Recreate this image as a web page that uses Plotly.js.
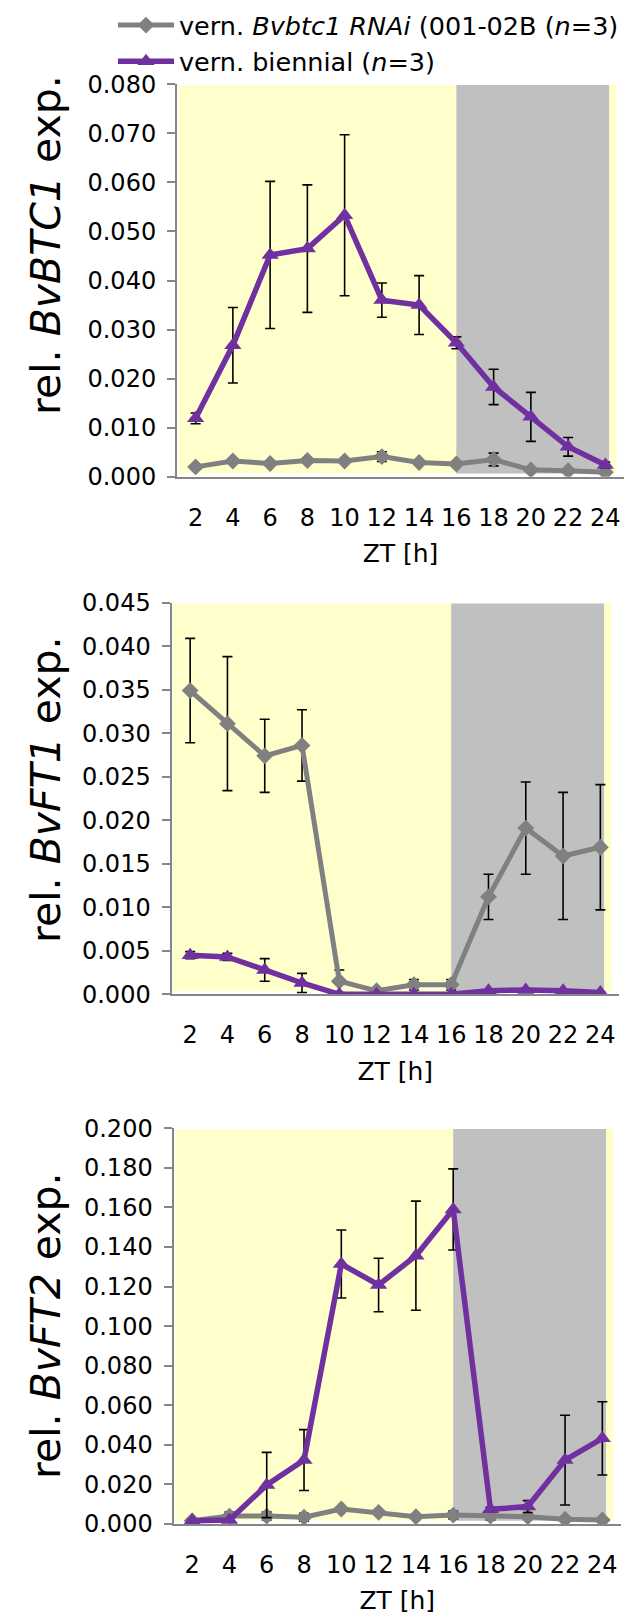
<!DOCTYPE html>
<html>
<head>
<meta charset="utf-8">
<script src="https://cdn.plot.ly/plotly-3.0.1.min.js"></script>
<style>html,body{margin:0;padding:0;background:#fff;}#chart{width:635px;height:1616px;}</style>
</head>
<body>
<div id="chart"></div>
<script>
// ---- data ----
const zt = [2, 4, 6, 8, 10, 12, 14, 16, 18, 20, 22, 24];
const xTickLabels = ["2","4","6","8","10","12","14","16","18","20","22","24"];

const seriesNames = ["vern. <i>Bvbtc1 RNAi</i> (001-02B (<i>n</i>=3)", "vern. biennial (<i>n</i>=3)"];
const yTitles = ["rel. <i>BvBTC1</i> exp.", "rel. <i>BvFT1</i> exp.", "rel. <i>BvFT2</i> exp."];
const xTitle = "ZT [h]";

// BvBTC1
const btc1Rnai    = [0.0020, 0.0032, 0.0027, 0.0033, 0.0032, 0.0041, 0.0029, 0.0026, 0.0035, 0.0014, 0.0012, 0.0009];
const btc1RnaiErr = [0.0003, 0.0004, 0.0003, 0.0005, 0.0004, 0.0010, 0.0003, 0.0003, 0.0013, 0.0003, 0.0003, 0.0002];
const btc1Bien    = [0.0119, 0.0268, 0.0452, 0.0465, 0.0533, 0.0360, 0.0350, 0.0273, 0.0183, 0.0122, 0.0061, 0.0024];
const btc1BienErr = [0.0011, 0.0077, 0.0150, 0.0130, 0.0164, 0.0035, 0.0060, 0.0012, 0.0036, 0.0050, 0.0019, 0.0006];

// BvFT1
const ft1Rnai    = [0.0349, 0.0311, 0.0274, 0.0286, 0.0015, 0.0004, 0.0011, 0.0011, 0.0112, 0.0191, 0.0159, 0.0169];
const ft1RnaiErr = [0.0060, 0.0077, 0.0042, 0.0041, 0.0013, 0.0002, 0.0006, 0.0006, 0.0026, 0.0053, 0.0073, 0.0072];
const ft1Bien    = [0.0045, 0.0043, 0.0028, 0.0013, 0.0000, 0.0000, 0.0000, 0.0000, 0.0004, 0.0005, 0.0004, 0.0002];
const ft1BienErr = [0.0004, 0.0004, 0.0013, 0.0011, 0.0000, 0.0000, 0.0000, 0.0000, 0.0001, 0.0001, 0.0001, 0.0001];

// BvFT2
const ft2Rnai    = [0.0017, 0.0040, 0.0040, 0.0034, 0.0076, 0.0059, 0.0037, 0.0045, 0.0040, 0.0037, 0.0024, 0.0020];
const ft2RnaiErr = [0.0005, 0.0020, 0.0020, 0.0020, 0.0010, 0.0010, 0.0010, 0.0020, 0.0020, 0.0010, 0.0010, 0.0010];
const ft2Bien    = [0.0017, 0.0020, 0.0197, 0.0323, 0.1314, 0.1208, 0.1356, 0.1590, 0.0074, 0.0088, 0.0323, 0.0433];
const ft2BienErr = [0.0005, 0.0005, 0.0165, 0.0154, 0.0172, 0.0135, 0.0276, 0.0205, 0.0010, 0.0030, 0.0227, 0.0185];

const yMax = [0.080, 0.045, 0.200];
const yStep = [0.010, 0.005, 0.020];

// light (yellow) and dark (gray) phases, in ZT units
const lightPhase = [1.08, 24.6];
const darkPhase = [16.0, 24.2];

// ---- styling ----
const FONT = "DejaVu Sans, Liberation Sans, Arial, sans-serif";
const GRAY = "#808080";
const PURPLE = "#7030A0";
const AXIS = "#868686";

const panels = [
  {rnai: btc1Rnai, rnaiErr: btc1RnaiErr, bien: btc1Bien, bienErr: btc1BienErr},
  {rnai: ft1Rnai, rnaiErr: ft1RnaiErr, bien: ft1Bien, bienErr: ft1BienErr},
  {rnai: ft2Rnai, rnaiErr: ft2RnaiErr, bien: ft2Bien, bienErr: ft2BienErr}
];

const W = 635, H = 1616;
const px = v => v / W, py = v => 1 - v / H;
// plot areas in pixels: [left, right, top, bottom]
const areas = [
  [177, 624, 84.3, 476.7],
  [171.5, 619, 602.7, 994.3],
  [173.5, 621, 1128.3, 1524]
];
const titleCenters = [245, 790, 1326];

const traces = [];
const layout = {
  width: W, height: H,
  margin: {l: 0, r: 0, t: 0, b: 0},
  paper_bgcolor: "#fff", plot_bgcolor: "rgba(0,0,0,0)",
  showlegend: true,
  legend: {
    x: px(113), y: py(2), xanchor: "left", yanchor: "top",
    font: {family: FONT, size: 25.5, color: "#000"},
    itemwidth: 56, tracegroupgap: 0, bgcolor: "rgba(0,0,0,0)"
  },
  shapes: [], annotations: []
};

panels.forEach((p, i) => {
  const n = i === 0 ? "" : String(i + 1);
  const xa = "x" + n, ya = "y" + n;
  traces.push({
    x: zt, y: p.rnai, xaxis: xa, yaxis: ya, type: "scatter", mode: "lines+markers",
    name: seriesNames[0], legendgroup: "a", showlegend: i === 0,
    line: {color: GRAY, width: 5},
    marker: {symbol: "diamond", size: 13, color: GRAY},
    error_y: {type: "data", array: p.rnaiErr, visible: true, color: "#000", thickness: 1.6, width: 5}
  });
  traces.push({
    x: zt, y: p.bien, xaxis: xa, yaxis: ya, type: "scatter", mode: "lines+markers",
    name: seriesNames[1], legendgroup: "b", showlegend: i === 0,
    line: {color: PURPLE, width: 5.5},
    marker: {symbol: "triangle-up", size: 15, color: PURPLE},
    error_y: {type: "data", array: p.bienErr, visible: true, color: "#000", thickness: 1.6, width: 5}
  });
  const a = areas[i];
  layout["xaxis" + n] = {
    domain: [px(a[0]), px(a[1])], anchor: ya, range: [1, 25],
    tickmode: "array", tickvals: zt, ticktext: xTickLabels,
    showgrid: false, zeroline: false, showline: true, linecolor: AXIS, linewidth: 2,
    ticks: "", ticklabelstandoff: 18,
    tickfont: {family: FONT, size: 24, color: "#000"},
    title: {text: xTitle, font: {family: FONT, size: 25, color: "#000"}, standoff: 14},
    fixedrange: true
  };
  layout["yaxis" + n] = {
    domain: [py(a[3]), py(a[2])], anchor: xa, range: [0, yMax[i]], dtick: yStep[i], tick0: 0,
    tickformat: ".3f", showgrid: false, zeroline: false, showline: true, linecolor: AXIS, linewidth: 2,
    ticks: "outside", ticklen: 8, tickcolor: AXIS, tickwidth: 2, ticklabelstandoff: 6,
    tickfont: {family: FONT, size: 24, color: "#000"},
    fixedrange: true
  };
  layout.shapes.push({type: "rect", xref: xa, yref: ya + " domain", x0: lightPhase[0], x1: lightPhase[1], y0: 0.008, y1: 0.998,
    fillcolor: "#FFFFCC", line: {width: 0}, layer: "below"});
  layout.shapes.push({type: "rect", xref: xa, yref: ya + " domain", x0: darkPhase[0], x1: darkPhase[1], y0: 0.008, y1: 0.998,
    fillcolor: "#C0C0C0", line: {width: 0}, layer: "below"});
  layout.annotations.push({
    text: yTitles[i], textangle: -90, showarrow: false,
    xref: "paper", yref: "paper", x: px(46), y: py(titleCenters[i]), xanchor: "center", yanchor: "middle",
    font: {family: FONT, size: 41, color: "#000"}
  });
});

Plotly.newPlot("chart", traces, layout, {staticPlot: true, displayModeBar: false});
</script>
</body>
</html>
